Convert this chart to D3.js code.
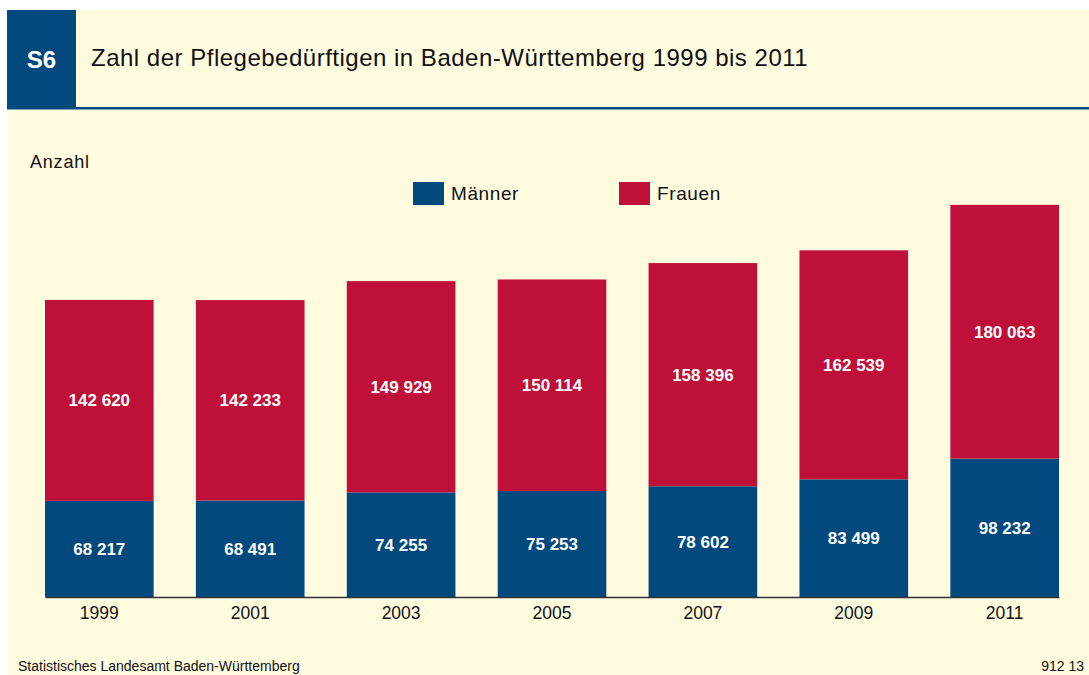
<!DOCTYPE html>
<html>
<head>
<meta charset="utf-8">
<script src="https://cdn.jsdelivr.net/npm/d3@7"></script>
<style>
    body { margin: 0; background: #fff; }
    svg text { font-family: "Liberation Sans", Arial, sans-serif; }
</style>
</head>
<body>
<div id="chart"></div>
<script>
// data
const years = ["1999", "2001", "2003", "2005", "2007", "2009", "2011"]
const maenner = [68217, 68491, 74255, 75253, 78602, 83499, 98232]
const frauen = [142620, 142233, 149929, 150114, 158396, 162539, 180063]
const seriesNames = ["Männer", "Frauen"]

const colors = { maenner: "#024a7e", frauen: "#be1038", bg: "#fffbdf" }

buildChart()

function buildChart() {
    const W = 1089, H = 675
    const svg = d3.select("#chart").append("svg")
        .attr("width", W).attr("height", H)

    // panel + header
    svg.append("rect").attr("x", 7).attr("y", 10).attr("width", W - 7).attr("height", H - 10)
        .attr("fill", colors.bg)
    svg.append("rect").attr("x", 7).attr("y", 10).attr("width", 69).attr("height", 98)
        .attr("fill", colors.maenner)
    svg.append("rect").attr("x", 7).attr("y", 107).attr("width", W - 7).attr("height", 2.5)
        .attr("fill", colors.maenner)
    svg.append("text").attr("x", 41.5).attr("y", 68).attr("text-anchor", "middle")
        .attr("font-size", 24).attr("font-weight", "bold").attr("fill", "#fff").text("S6")
    svg.append("text").attr("x", 91).attr("y", 66)
        .attr("font-size", 24).attr("letter-spacing", 0.5).attr("fill", "#111")
        .text("Zahl der Pflegebedürftigen in Baden-Württemberg 1999 bis 2011")

    svg.append("text").attr("x", 30).attr("y", 168).attr("font-size", 18)
        .attr("letter-spacing", 0.8).attr("fill", "#111").text("Anzahl")

    // legend
    const legend = svg.append("g")
    const legendX = [413, 619]
    seriesNames.forEach((name, i) => {
        legend.append("rect").attr("x", legendX[i]).attr("y", 182).attr("width", 31).attr("height", 23)
            .attr("fill", i === 0 ? colors.maenner : colors.frauen)
        legend.append("text").attr("x", legendX[i] + 38).attr("y", 199.5)
            .attr("font-size", 19).attr("letter-spacing", 0.6).attr("fill", "#111").text(name)
    })

    // scales
    const x = d3.scaleBand().domain(years).range([45, 1059]).paddingInner(0.28).paddingOuter(0)
    const y = d3.scaleLinear().domain([0, 100000]).range([597, 456.1])

    const data = years.map((yr, i) => ({ year: yr, m: maenner[i], f: frauen[i] }))

    const bars = svg.append("g").selectAll("g").data(data).enter().append("g")

    bars.append("rect")
        .attr("x", d => x(d.year)).attr("width", x.bandwidth())
        .attr("y", d => y(d.m)).attr("height", d => y(0) - y(d.m))
        .attr("fill", colors.maenner)
    bars.append("rect")
        .attr("x", d => x(d.year)).attr("width", x.bandwidth())
        .attr("y", d => y(d.m + d.f)).attr("height", d => y(d.m) - y(d.m + d.f))
        .attr("fill", colors.frauen)

    const fmt = v => d3.format(",")(v).replace(/,/g, " ")
    bars.append("text")
        .attr("x", d => x(d.year) + x.bandwidth() / 2)
        .attr("y", d => (y(0) + y(d.m)) / 2 + 6)
        .attr("text-anchor", "middle").attr("font-size", 17).attr("font-weight", "bold")
        .attr("fill", "#fff").text(d => fmt(d.m))
    bars.append("text")
        .attr("x", d => x(d.year) + x.bandwidth() / 2)
        .attr("y", d => (y(d.m) + y(d.m + d.f)) / 2 + 6)
        .attr("text-anchor", "middle").attr("font-size", 17).attr("font-weight", "bold")
        .attr("fill", "#fff").text(d => fmt(d.f))

    // x axis
    const xAxis = svg.append("g").attr("transform", "translate(0,597)")
        .call(d3.axisBottom(x).tickSize(0).tickPadding(10))
    xAxis.select(".domain").attr("stroke", "#333").attr("stroke-width", 1.5)
    xAxis.selectAll("text").attr("font-size", 17.5).attr("fill", "#111")
        .style("font-family", "Liberation Sans, Arial, sans-serif")

    // footer
    svg.append("text").attr("x", 18).attr("y", 671).attr("font-size", 14).attr("fill", "#111")
        .text("Statistisches Landesamt Baden-Württemberg")
    svg.append("text").attr("x", 1084).attr("y", 671).attr("text-anchor", "end")
        .attr("font-size", 14).attr("fill", "#111").text("912 13")
}
</script>
</body>
</html>
